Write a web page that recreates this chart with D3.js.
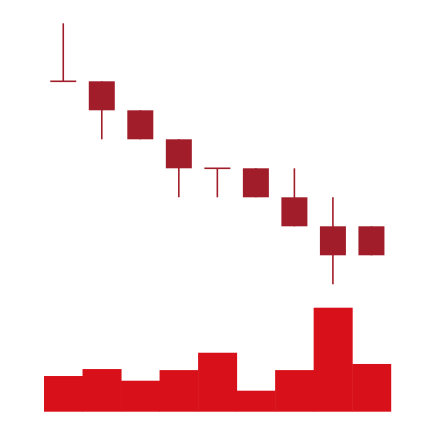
<!DOCTYPE html>
<html>
<head>
<meta charset="utf-8">
<script src="https://cdn.jsdelivr.net/npm/d3@7"></script>
<style>
html,body{margin:0;padding:0;background:#fff;}
svg{display:block;}
</style>
</head>
<body>
<svg id="chart" width="434" height="422"></svg>
<script>
const categories = ["1","2","3","4","5","6","7","8","9"];
const openVals  = [8, 8, 7, 6, 5, 5, 4, 3, 3];
const highVals  = [10, 8, 7, 6, 5, 5, 5, 4, 3];
const lowVals   = [8, 6, 6, 4, 4, 4, 3, 1, 2];
const closeVals = [8, 7, 6, 5, 5, 4, 3, 2, 2];
const volumeVals = [3.43, 4.1, 2.98, 4.0, 5.67, 2.02, 4.0, 10.0, 4.59];

const candleColor = "#a11d2a";
const volumeColor = "#d81019";

const svg = d3.select("#chart");

const x = d3.scaleBand().domain(categories).range([44, 390.7]).padding(0);
const y = d3.scaleLinear().domain([1, 10]).range([284.3, 23.3]);
const yv = d3.scaleLinear().domain([0, 10]).range([411.7, 307.7]);

const bodyW = x.bandwidth() * 0.675;

const data = categories.map((c, i) => ({
  c, o: openVals[i], h: highVals[i], l: lowVals[i], cl: closeVals[i], v: volumeVals[i]
}));

// volume bars
svg.append("g").selectAll("rect").data(data).join("rect")
  .attr("x", d => x(d.c))
  .attr("width", x.bandwidth() + 0.5)
  .attr("y", d => yv(d.v))
  .attr("height", d => yv(0) - yv(d.v))
  .attr("fill", volumeColor);

const g = svg.append("g");
const cg = g.selectAll("g").data(data).join("g");

// wicks
cg.append("line")
  .attr("x1", d => x(d.c) + x.bandwidth() / 2)
  .attr("x2", d => x(d.c) + x.bandwidth() / 2)
  .attr("y1", d => y(d.h))
  .attr("y2", d => y(d.l))
  .attr("stroke", candleColor)
  .attr("stroke-width", 1.6);

// bodies
cg.append("rect")
  .attr("x", d => x(d.c) + (x.bandwidth() - bodyW) / 2)
  .attr("width", bodyW)
  .attr("y", d => y(Math.max(d.o, d.cl)))
  .attr("height", d => Math.max(1.6, Math.abs(y(d.o) - y(d.cl))))
  .attr("fill", candleColor)
  .attr("transform", d => d.o === d.cl ? "translate(0,-0.8)" : null);
</script>
</body>
</html>
